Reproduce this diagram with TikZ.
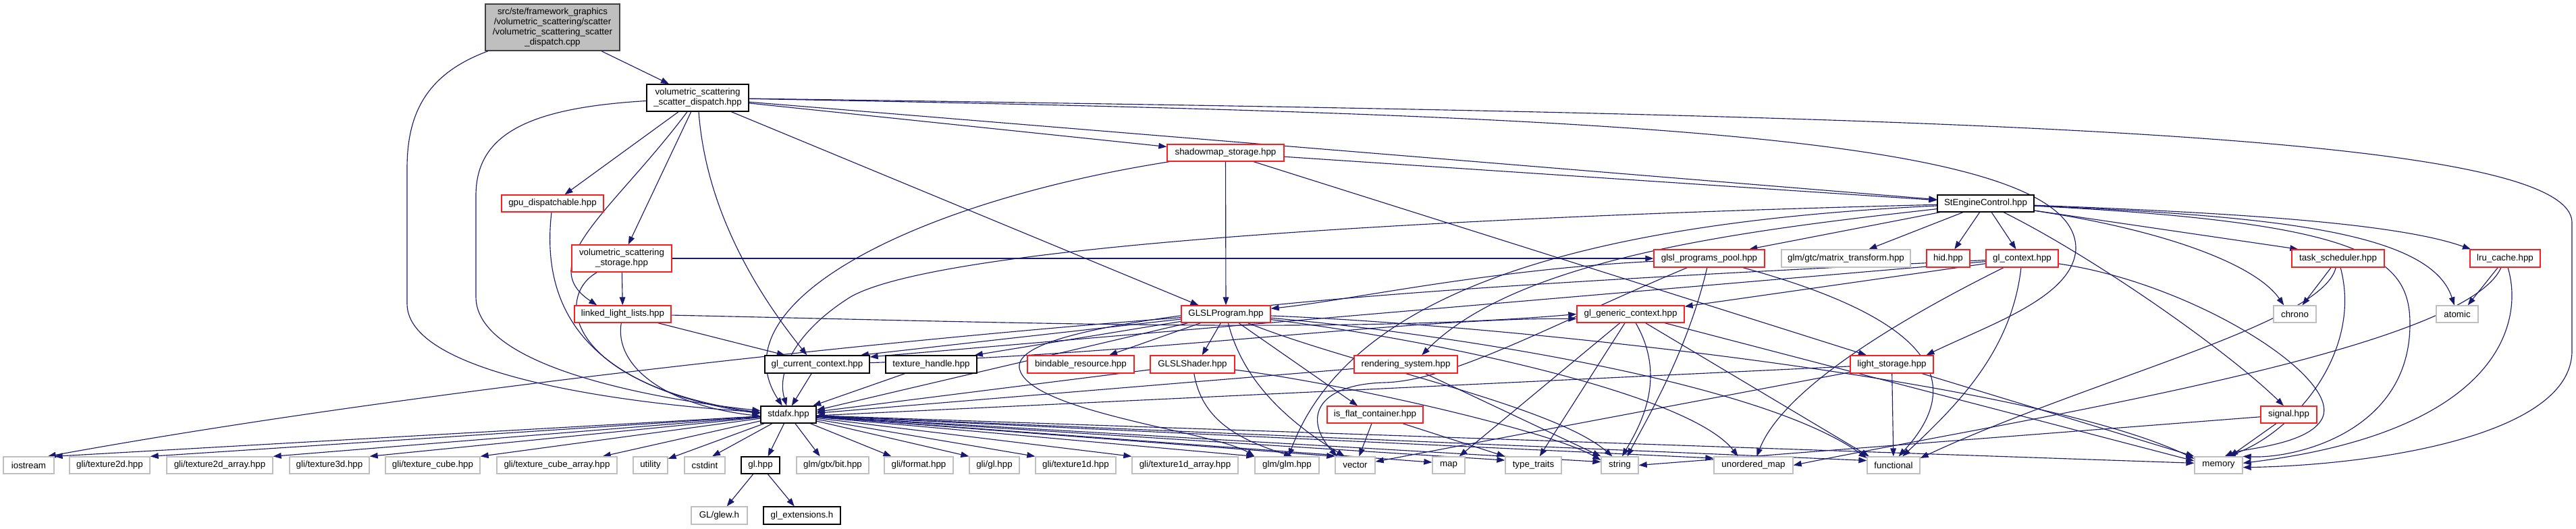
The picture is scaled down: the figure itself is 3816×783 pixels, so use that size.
\documentclass[tikz,border=0pt]{standalone}
\usepackage{fontspec}
\setmainfont{Liberation Sans}
\usetikzlibrary{arrows.meta}
\definecolor{edgec}{RGB}{25,25,112}
\definecolor{redb}{RGB}{255,30,30}
\definecolor{grayb}{RGB}{191,191,191}
\definecolor{rootb}{RGB}{64,64,64}
\pgfdeclarelayer{bg}
\pgfsetlayers{bg,main}
\tikzset{
  x=0.75pt, y=-0.75pt,
  nb/.style={draw, line width=1pt, inner sep=0pt, align=center, fill=white,
    font=\fontsize{10}{11.25}\selectfont},
  wh/.style 2 args={minimum width={#1*0.75pt}, minimum height={#2*0.75pt}},
  blk/.style={nb, draw=black},
  rd/.style={nb, draw=redb},
  gr/.style={nb, draw=grayb},
  rootbox/.style={nb, draw=rootb, fill=grayb},
  e/.style={draw=edgec, line width=0.85pt, -{Triangle[length=9pt,width=6.5pt]}},
}
\begin{document}
\begin{tikzpicture}
\useasboundingbox (0,0) rectangle (3816,783);
% ---- nodes
\node[rootbox, wh={199}{69}] (root) at (818.5,40.5) {src/ste/framework\_graphics\\/volumetric\_scattering/scatter\\/volumetric\_scattering\_scatter\\\_dispatch.cpp};
\node[blk, wh={151}{40}] (SD) at (1033.5,145) {volumetric\_scattering\\\_scatter\_dispatch.hpp};
\node[rd, wh={151}{25}] (gpu) at (818.5,301.5) {gpu\_dispatchable.hpp};
\node[rd, wh={148}{40}] (vss) at (921,383) {volumetric\_scattering\\\_storage.hpp};
\node[rd, wh={143}{25}] (lll) at (922.5,465.5) {linked\_light\_lists.hpp};
\node[blk, wh={155}{26}] (gcc) at (1210.5,540) {gl\_current\_context.hpp};
\node[blk, wh={82}{25}] (stdafx) at (1168,614.5) {stdafx.hpp};
\node[gr, wh={75}{25}] (iostream) at (42.5,689.5) {iostream};
\node[gr, wh={119}{25}] (tex2d) at (162.5,689.5) {gli/texture2d.hpp};
\node[gr, wh={157}{25}] (tex2da) at (325.5,689.5) {gli/texture2d\_array.hpp};
\node[gr, wh={118}{25}] (tex3d) at (488,689.5) {gli/texture3d.hpp};
\node[gr, wh={140}{25}] (texcube) at (641,689.5) {gli/texture\_cube.hpp};
\node[gr, wh={178}{25}] (texcubea) at (825,689.5) {gli/texture\_cube\_array.hpp};
\node[gr, wh={51}{25}] (utility) at (963.5,689.5) {utility};
\node[gr, wh={60}{25}] (cstdint) at (1044,689.5) {cstdint};
\node[blk, wh={57}{25}] (glhpp) at (1126.5,689.5) {gl.hpp};
\node[gr, wh={107}{25}] (bit) at (1233.5,689.5) {glm/gtx/bit.hpp};
\node[gr, wh={102}{25}] (format) at (1361,689.5) {gli/format.hpp};
\node[gr, wh={74}{25}] (gligl) at (1473,689.5) {gli/gl.hpp};
\node[gr, wh={119}{25}] (tex1d) at (1593.5,689.5) {gli/texture1d.hpp};
\node[gr, wh={157}{25}] (tex1da) at (1755.5,689.5) {gli/texture1d\_array.hpp};
\node[gr, wh={95}{25}] (glm) at (1906.5,689.5) {glm/glm.hpp};
\node[gr, wh={59}{25}] (vector) at (2007.5,689.5) {vector};
\node[gr, wh={48}{25}] (map) at (2146,689.5) {map};
\node[gr, wh={83}{25}] (typetraits) at (2271.5,689.5) {type\_traits};
\node[gr, wh={55}{25}] (string) at (2399.5,689.5) {string};
\node[gr, wh={117}{25}] (umap) at (2597.5,689.5) {unordered\_map};
\node[gr, wh={78}{25}] (functional) at (2805,689.5) {functional};
\node[gr, wh={71}{25}] (memory) at (3286.5,689.5) {memory};
\node[gr, wh={83}{26}] (glew) at (1065.5,764) {GL/glew.h};
\node[blk, wh={114}{26}] (glext) at (1188,764) {gl\_extensions.h};
\node[blk, wh={135}{26}] (texhandle) at (1379.5,540) {texture\_handle.hpp};
\node[rd, wh={158}{26}] (bindable) at (1601,540) {bindable\_resource.hpp};
\node[rd, wh={125}{26}] (glslshader) at (1766.5,540) {GLSLShader.hpp};
\node[rd, wh={132}{25}] (glslprog) at (1816,465.5) {GLSLProgram.hpp};
\node[rd, wh={153}{26}] (rendsys) at (2082.5,540) {rendering\_system.hpp};
\node[rd, wh={142}{25}] (isflat) at (2037,614.5) {is\_flat\_container.hpp};
\node[rd, wh={159}{25}] (glgeneric) at (2415.5,465.5) {gl\_generic\_context.hpp};
\node[rd, wh={164}{26}] (glslpool) at (2532,383) {glsl\_programs\_pool.hpp};
\node[rd, wh={173}{25}] (shadowmap) at (1815.5,226.5) {shadowmap\_storage.hpp};
\node[blk, wh={143}{25}] (SEC) at (2941.5,301.5) {StEngineControl.hpp};
\node[gr, wh={191}{26}] (matrix) at (2734.5,383) {glm/gtc/matrix\_transform.hpp};
\node[rd, wh={64}{26}] (hid) at (2886,383) {hid.hpp};
\node[rd, wh={107}{26}] (glcontext) at (2995.5,383) {gl\_context.hpp};
\node[rd, wh={137}{26}] (tasksched) at (3463.5,383) {task\_scheduler.hpp};
\node[rd, wh={104}{26}] (lru) at (3711,383) {lru\_cache.hpp};
\node[gr, wh={63}{25}] (chrono) at (3399.5,465.5) {chrono};
\node[gr, wh={62}{25}] (atomic) at (3640,465.5) {atomic};
\node[rd, wh={83}{25}] (signal) at (3390.5,614.5) {signal.hpp};
\node[rd, wh={123}{26}] (lightstorage) at (2802.5,540) {light\_storage.hpp};
% ---- edges
\begin{pgfonlayer}{bg}
% root
\draw[e] (root) -- (SD);
\draw[e] (root) .. controls (630,110) and (603,170) .. (603,250) -- (603,450) .. controls (603,560) and (950,600) .. (stdafx.175);
% SD
\draw[e] (SD) -- (gpu);
\draw[e] (SD) -- (vss);
\draw[e] (SD) .. controls (910,310) and (790,390) .. (lll.161);
\draw[e] (SD) .. controls (780,160) and (705,200) .. (705,290) -- (705,440) .. controls (705,550) and (1000,595) .. (stdafx.172);
\draw[e] (SD) .. controls (1045,300) and (1110,420) .. (gcc.138);
\draw[e] (SD) -- (glslprog.162);
\draw[e] (SD) -- (shadowmap);
\draw[e] (SD) -- (SEC);
\draw[e] (SD) .. controls (2800,170) and (3810,190) .. (3810,330) -- (3810,520) .. controls (3810,650) and (3500,690) .. (memory.-5);
\draw[e] (SD) .. controls (2400,170) and (3080,200) .. (3075,370) .. controls (3070,440) and (2950,480) .. (lightstorage.15);
% gpu, vss, lll
\draw[e] (gpu) .. controls (805,420) and (830,570) .. (stdafx.178);
\draw[e] (vss) -- (lll);
\draw[e] (vss) .. controls (820,440) and (840,570) .. (stdafx.176);
\draw[e] (vss) -- (glslpool);
\draw[e] (lll) .. controls (910,540) and (980,600) .. (stdafx.183);
\draw[e] (lll) -- (gcc.164);
\draw[e] (lll) .. controls (1500,478) and (2000,495) .. (glgeneric.west);
% shadowmap
\draw[e] (shadowmap) -- (glslprog);
\draw[e] (shadowmap) .. controls (1350,300) and (1060,450) .. (stdafx.125);
\draw[e] (shadowmap) -- (SEC);
\draw[e] (shadowmap) -- (lightstorage.160);
% SEC
\draw[e] (SEC) -- (glslpool.13);
\draw[e] (SEC) -- (matrix.22);
\draw[e] (SEC) -- (hid);
\draw[e] (SEC) -- (glcontext);
\draw[e] (SEC) -- (tasksched.167);
\draw[e] (SEC) .. controls (3300,315) and (3550,330) .. (lru.165);
\draw[e] (SEC) .. controls (3200,340) and (3340,390) .. (chrono.141);
\draw[e] (SEC) .. controls (3350,320) and (3600,340) .. (atomic.108);
\draw[e] (SEC) .. controls (3500,330) and (3570,380) .. (3570,480) .. controls (3570,640) and (3400,680) .. (memory.20);
\draw[e] (SEC) .. controls (3100,380) and (3300,520) .. (signal.120);
\draw[e] (SEC) .. controls (2200,320) and (1400,360) .. (1260,440) .. controls (1180,490) and (1150,550) .. (stdafx.102);
\draw[e] (SEC) .. controls (2350,330) and (2000,430) .. (glm.80);
\draw[e] (SEC) .. controls (2600,340) and (2250,380) .. (rendsys.30);
% glslpool
\draw[e] (glslpool) .. controls (2200,400) and (2000,445) .. (glslprog.7);
\draw[e] (glslpool) .. controls (2300,480) and (2150,565) .. (2050,567) .. controls (1950,570) and (1930,620) .. (vector.154);
\draw[e] (glslpool) .. controls (2500,520) and (2440,620) .. (string.50);
\draw[e] (glslpool) .. controls (2850,470) and (2920,560) .. (functional.60);
% glslprog
\draw[e] (glslprog) -- (gcc.12);
\draw[e] (glslprog) -- (texhandle.12);
\draw[e] (glslprog) -- (bindable.18);
\draw[e] (glslprog) -- (glslshader.44);
\draw[e] (glslprog) -- (isflat.153);
\draw[e] (glslprog) .. controls (1300,505) and (600,580) .. (iostream.25);
\draw[e] (glslprog) -- (stdafx.9);
\draw[e] (glslprog) .. controls (1840,560) and (1900,620) .. (vector.140);
\draw[e] (glslprog) .. controls (2000,540) and (2300,600) .. (string.130);
\draw[e] (glslprog) .. controls (2100,500) and (2500,580) .. (umap.150);
\draw[e] (glslprog) .. controls (2100,490) and (2600,560) .. (functional.165);
\draw[e] (glslprog) .. controls (2200,480) and (3000,560) .. (memory.165);
% glslshader, texhandle, gcc, isflat, rendsys
\draw[e] (glslshader) -- (stdafx.6);
\draw[e] (glslshader) .. controls (1780,620) and (1830,650) .. (glm.60);
\draw[e] (glslshader) .. controls (2000,570) and (2300,640) .. (string.165);
\draw[e] (texhandle) -- (stdafx.20);
\draw[e] (gcc) -- (stdafx.70);
\draw[e] (gcc) .. controls (1700,525) and (2100,470) .. (glgeneric.185);
\draw[e] (isflat) -- (vector.66);
\draw[e] (isflat) -- (typetraits.north west);
\draw[e] (rendsys) -- (stdafx.3);
\draw[e] (rendsys) -- (string.north west);
% glgeneric
\draw[e] (glgeneric) -- (map.40);
\draw[e] (glgeneric) -- (typetraits.55);
\draw[e] (glgeneric) .. controls (2470,560) and (2430,630) .. (string.75);
\draw[e] (glgeneric) -- (functional.160);
\draw[e] (glgeneric) -- (memory.170);
% glcontext
\draw[e] (glcontext) -- (glgeneric.8);
\draw[e] (glcontext) -- (gcc.8);
\draw[e] (glcontext) .. controls (2980,520) and (2900,600) .. (functional.45);
\draw[e] (glcontext) .. controls (2800,480) and (2640,580) .. (umap.70);
\draw[e] (glcontext) .. controls (3250,420) and (3470,560) .. (3440,620) .. controls (3420,660) and (3320,665) .. (memory.55);
\draw[e] (glcontext) .. controls (2000,430) and (1500,470) .. (1510,545) .. controls (1520,610) and (1800,640) .. (glm.north west);
% tasksched, lru, signal
\draw[e] (tasksched) -- (chrono.50);
\draw[e] (tasksched) .. controls (3500,520) and (3400,640) .. (memory.45);
\draw[e] (tasksched) .. controls (3440,480) and (3100,560) .. (functional.15);
\draw[e] (lru) -- (atomic.40);
\draw[e] (lru) .. controls (3740,480) and (3700,640) .. (memory.5);
\draw[e] (lru) .. controls (3650,520) and (3000,620) .. (umap.east);
\draw[e] (signal) -- (memory.38);
\draw[e] (signal) -- (string.east);
% lightstorage
\draw[e] (lightstorage) -- (stdafx.-2);
\draw[e] (lightstorage) -- (functional);
\draw[e] (lightstorage) -- (memory.160);
\draw[e] (lightstorage) -- (vector.10);
% stdafx to bottom row
\foreach \t/\a in {iostream/north east, tex2d/north east, tex2da/north east, tex3d/north east,
  texcube/north east, texcubea/11, utility/20, cstdint/50, glhpp/50, bit/145, format/162,
  gligl/north west, tex1d/north west, tex1da/north west, glm/north west, vector/north west,
  map/170, typetraits/170, string/170, umap/170, functional/170, memory/175}
  \draw[e] (stdafx) -- (\t.\a);
\draw[e] (glhpp) -- (glew);
\draw[e] (glhpp) -- (glext);
\end{pgfonlayer}
\end{tikzpicture}
\end{document}
